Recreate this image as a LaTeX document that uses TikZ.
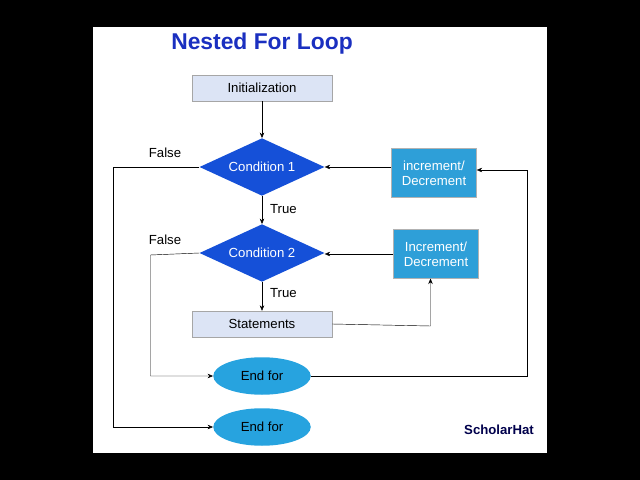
\documentclass[tikz,border=0pt]{standalone}
\usepackage{fontspec}
\setmainfont{Liberation Sans}
\usetikzlibrary{shapes.geometric,arrows.meta,positioning,calc}
\definecolor{boxfill}{HTML}{DCE4F5}
\definecolor{diafill}{HTML}{1550D8}
\definecolor{incfill}{HTML}{2E9FD8}
\definecolor{endfill}{HTML}{27A3DF}
\definecolor{titleblue}{HTML}{1A2FC0}
\begin{document}
\begin{tikzpicture}[
    x=0.4mm, y=-0.4mm,
    font=\fontsize{15}{17}\selectfont,
    stepbox/.style={rectangle, draw=gray!70, fill=boxfill, minimum width=56mm, minimum height=10.4mm},
    cond/.style={diamond, fill=diafill, text=white, aspect=2.2, minimum width=50mm, minimum height=23mm, inner sep=0pt},
    inc/.style={rectangle, draw=gray!60, fill=incfill, text=white, align=center, minimum width=34mm, minimum height=19.5mm, inner sep=1pt},
    endnode/.style={ellipse, fill=endfill, minimum width=39mm, minimum height=15mm},
    arrow/.style={-{Stealth[length=2.2mm,width=1.8mm]}, line width=0.5pt}
]
    % background and panel
    \fill[black] (0,0) rectangle (640,480);
    \fill[white] (93,27) rectangle (547,453);
    \useasboundingbox (0,0) rectangle (640,480);

    \node[font=\fontsize{26}{28}\selectfont\bfseries, text=titleblue] (title) at (262,44) {Nested For Loop};

    % main column
    \node[stepbox] (init) at (262,88) {Initialization};
    \node[cond] (c1) at (262,167) {Condition 1};
    \node[cond] (c2) at (262,253) {Condition 2};
    \node[stepbox] (stmt) at (262,324) {Statements};
    \node[endnode] (end1) at (262,376) {End for};
    \node[endnode] (end2) at (262,427) {End for};

    % increment boxes
    \node[inc] (inc1) at (434,173) {increment/\\Decrement};
    \node[inc] (inc2) at (436,254) {Increment/\\Decrement};

    \coordinate (f1) at (113,167);
    \coordinate (f2) at (150.5,255);

    \draw[arrow] (init) -- (c1);
    \draw[arrow] (c1) -- node[right=2mm, pos=0.45] {True} (c2);
    \draw[arrow] (c2) -- node[right=2mm, pos=0.4] {True} (stmt);
    \draw[arrow] (inc1.west |- c1) -- (c1.east);
    \draw[arrow] (inc2.west) -- (c2.east |- inc2.west);
    \draw[arrow] (stmt.east) -- (430.5,326) -- (inc2.south -| 430.5,0);
    \draw[arrow] (end1.east) -- (527,376) -- (527,170) -- (inc1.east |- 0,170);
    \draw[arrow] (c1.west) -- (f1) -- (f1 |- end2) -- (end2.west);
    \draw[arrow] (c2.west) -- (f2) -- (f2 |- end1) -- (end1.west);

    \node (fl1) at (165,153) {False};
    \node (fl2) at (165,240) {False};

    \node[font=\fontsize{15}{17}\selectfont\bfseries, text=black!70!blue] (logo) at (499,430) {ScholarHat};
\end{tikzpicture}
\end{document}
